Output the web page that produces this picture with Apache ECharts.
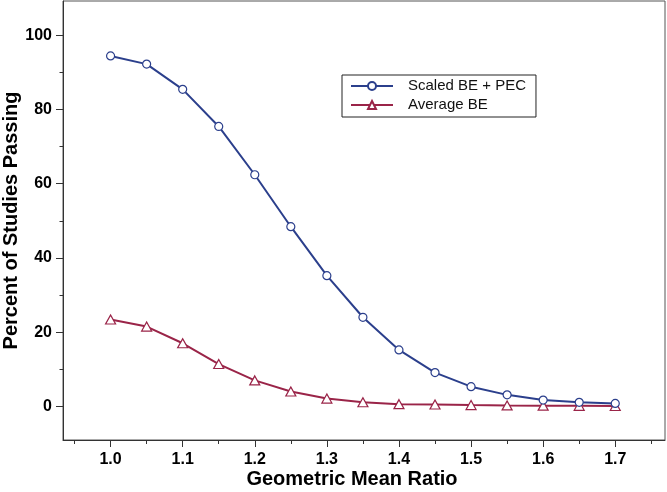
<!DOCTYPE html>
<html>
<head>
<meta charset="utf-8">
<script src="https://cdn.jsdelivr.net/npm/echarts@6/dist/echarts.min.js"></script>
<style>
html,body{margin:0;padding:0;background:#fff;}
#chart{width:667px;height:492px;}
</style>
</head>
<body>
<div id="chart"></div>
<script>
var gmr = [1.0, 1.05, 1.1, 1.15, 1.2, 1.25, 1.3, 1.35, 1.4, 1.45, 1.5, 1.55, 1.6, 1.65, 1.7];
var scaledBE = [94.4, 92.2, 85.4, 75.4, 62.4, 48.4, 35.2, 24.0, 15.2, 9.1, 5.3, 3.1, 1.7, 1.1, 0.8];
var averageBE = [23.4, 21.5, 17.0, 11.4, 7.0, 4.0, 2.1, 1.1, 0.6, 0.5, 0.35, 0.25, 0.2, 0.15, 0.1];
var xLabels = [1.0, 1.1, 1.2, 1.3, 1.4, 1.5, 1.6, 1.7];
var xMinorTicks = [0.95, 1.05, 1.15, 1.25, 1.35, 1.45, 1.55, 1.65, 1.75];
var yLabels = [0, 20, 40, 60, 80, 100];
var yMinorTicks = [10, 30, 50, 70, 90];

function pairs(xs, ys) { return xs.map(function (x, i) { return [x, ys[i]]; }); }

var FONT = '"Liberation Sans", Arial, sans-serif';
var BLUE = '#2b3f8c';
var RED = '#9a2448';
var AX = '#333';

var chart = echarts.init(document.getElementById('chart'));
chart.setOption({
  animation: false,
  backgroundColor: '#fff',
  grid: { left: 63, right: 2, top: 1, bottom: 52, show: true, borderColor: '#555', borderWidth: 1,
    containLabel: false, outerBoundsMode: 'none' },
  legend: {
    orient: 'vertical',
    left: 342, top: 75,
    padding: [3, 10, 4, 8],
    borderColor: '#222', borderWidth: 1,
    itemWidth: 42, itemHeight: 10, itemGap: 3,
    textStyle: { fontFamily: FONT, fontSize: 15, color: '#111', lineHeight: 16, padding: [0, 0, 0, 10] },
    data: ['Scaled BE + PEC', 'Average BE']
  },
  xAxis: [{
    type: 'value', min: 0.934, max: 1.769,
    name: 'Geometric Mean Ratio', nameLocation: 'middle', nameGap: 29, nameMoveOverlap: false,
    nameTextStyle: { fontFamily: FONT, fontSize: 20, fontWeight: 'bold', color: '#000', padding: [0, 24, 0, 0] },
    axisLine: { onZero: false, lineStyle: { color: AX, width: 1 } },
    axisTick: { show: true, length: 7, customValues: xLabels, lineStyle: { color: AX } },
    axisLabel: { customValues: xLabels, margin: 12, fontFamily: FONT, fontSize: 16, fontWeight: 'bold', color: '#000',
      formatter: function (v) { return v.toFixed(1); } },
    splitLine: { show: false }
  }, {
    type: 'value', min: 0.934, max: 1.769, position: 'bottom',
    axisLine: { show: false, onZero: false },
    axisTick: { show: true, length: 4, customValues: xMinorTicks, lineStyle: { color: AX } },
    axisLabel: { show: false },
    splitLine: { show: false }
  }],
  yAxis: [{
    type: 'value', min: -9.06, max: 109.2,
    name: 'Percent of Studies Passing', nameLocation: 'middle', nameGap: 42, nameRotate: 90, nameMoveOverlap: false,
    nameTextStyle: { fontFamily: FONT, fontSize: 20, fontWeight: 'bold', color: '#000' },
    axisLine: { show: true, onZero: false, lineStyle: { color: AX, width: 1 } },
    axisTick: { show: true, length: 7, customValues: yLabels, lineStyle: { color: AX } },
    axisLabel: { customValues: yLabels, margin: 11, fontFamily: FONT, fontSize: 16, fontWeight: 'bold', color: '#000' },
    splitLine: { show: false }
  }, {
    type: 'value', min: -9.06, max: 109.2, position: 'left',
    axisLine: { show: false, onZero: false },
    axisTick: { show: true, length: 3.5, customValues: yMinorTicks, lineStyle: { color: AX } },
    axisLabel: { show: false },
    splitLine: { show: false }
  }],
  series: [{
    name: 'Scaled BE + PEC', type: 'line', data: pairs(gmr, scaledBE),
    symbol: 'circle', symbolSize: 8,
    lineStyle: { color: BLUE, width: 2 },
    itemStyle: { color: '#fff', borderColor: BLUE, borderWidth: 1.2 },
    z: 3
  }, {
    name: 'Average BE', type: 'line', data: pairs(gmr, averageBE),
    symbol: 'triangle', symbolSize: [10, 9],
    lineStyle: { color: RED, width: 2 },
    itemStyle: { color: '#fff', borderColor: RED, borderWidth: 1.2 },
    z: 2
  }]
});
</script>
</body>
</html>
